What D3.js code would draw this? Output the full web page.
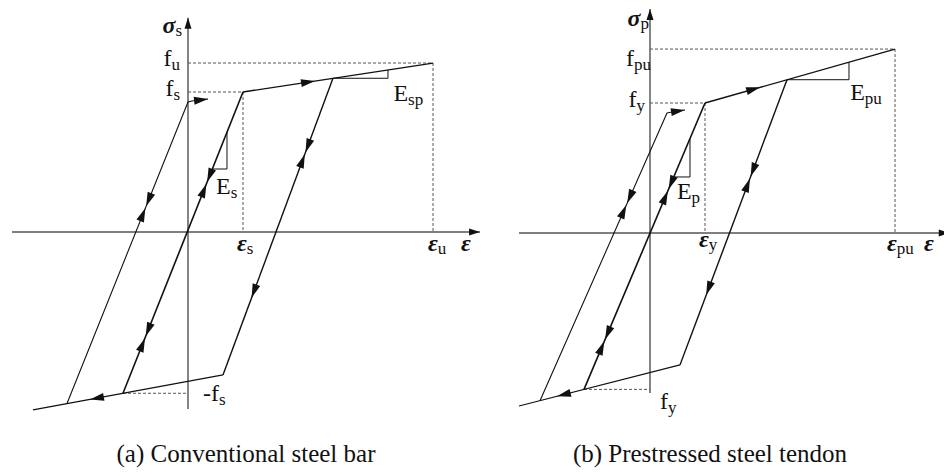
<!DOCTYPE html>
<html>
<head>
<meta charset="utf-8">
<script src="https://cdn.jsdelivr.net/npm/d3@7"></script>
<style>
  html, body { margin: 0; padding: 0; background: #fff; }
  svg { display: block; }
  text { font-family: "Liberation Serif", "Times New Roman", serif; fill: #111; }
</style>
</head>
<body>
<svg id="chart" width="944" height="473"></svg>
<script>
// Strain in units of the yield strain, stress in units of the yield stress.

// ---- (a) Conventional steel bar ----
const barYield = [1, 1];
const barUltimate = [4.455, 1.207];
const barFirstLoad = [[-2.2, -1.225], [0, 0.929], [0.073, 0.936], [0.364, 0.95]];
const barReload = [[-1.182, -1.152], [1, 1]];
const barHardening = [[1, 1], [4.455, 1.207]];
const barUnload = [[2.636, 1.098], [0.636, -1.021]];
const barCompression = [[0.636, -1.021], [-2.818, -1.271]];
const barNegYield = -1.152;
const barStrainAxis = [-3.2, 5.31];
const barStressAxis = [-1.264, 1.53];
const barSlopeMarks = { elastic: [0.709, 0.45], hardening: [2.636, 3.636] };

// ---- (b) Prestressed steel tendon ----
const tendonYield = [1, 1];
const tendonUltimate = [4.455, 1.415];
const tendonFirstLoad = [[-2.0, -1.29], [0.309, 0.923], [0.4, 0.931], [0.636, 0.946]];
const tendonReload = [[-1.2, -1.203], [1, 1]];
const tendonHardening = [[1, 1], [4.455, 1.415]];
const tendonUnload = [[2.491, 1.179], [0.545, -1.015]];
const tendonCompression = [[0.545, -1.015], [-2.382, -1.331]];
const tendonNegYield = -1.203;
const tendonStrainAxis = [-2.382, 5.45];
const tendonStressAxis = [-1.23, 1.723];
const tendonSlopeMarks = { elastic: [0.727, 0.431], hardening: [2.491, 3.618] };

// Direction arrows: branch, segment, position along it (0..1), and type
// "fwd" = single head pointing along the branch, "pair" = two heads meeting tip to tip
const barArrows = [
  { branch: "firstLoad", seg: 0, t: 0.651, kind: "pair" },
  { branch: "reload", seg: 0, t: 0.698, kind: "pair" },
  { branch: "reload", seg: 0, t: 0.186, kind: "pair" },
  { branch: "unload", seg: 0, t: 0.253, kind: "pair" },
  { branch: "unload", seg: 0, t: 0.74, kind: "fwd" },
  { branch: "hardening", seg: 0, t: 0.379, kind: "fwd" },
  { branch: "compression", seg: 0, t: 0.7, kind: "fwd" },
  { branch: "firstLoad", seg: 2, t: 1, kind: "fwd" }
];
const tendonArrows = [
  { branch: "firstLoad", seg: 0, t: 0.683, kind: "pair" },
  { branch: "reload", seg: 0, t: 0.696, kind: "pair" },
  { branch: "reload", seg: 0, t: 0.171, kind: "pair" },
  { branch: "unload", seg: 0, t: 0.343, kind: "pair" },
  { branch: "unload", seg: 0, t: 0.755, kind: "fwd" },
  { branch: "hardening", seg: 0, t: 0.29, kind: "fwd" },
  { branch: "compression", seg: 0, t: 0.764, kind: "fwd" },
  { branch: "firstLoad", seg: 2, t: 1, kind: "fwd" }
];

const captions = ["(a) Conventional steel bar", "(b) Prestressed steel tendon"];

const MAIN = 24, SUB = 17;
const svg = d3.select("#chart");

function arrowHead(g, tip, dir, len, half) {
  const [ux, uy] = dir;
  const bx = tip[0] - ux * len, by = tip[1] - uy * len;
  const px = -uy, py = ux;
  g.append("path")
    .attr("d", `M${tip[0]},${tip[1]}L${bx + px * half},${by + py * half}L${bx - px * half},${by - py * half}Z`)
    .attr("fill", "#111");
}

function label(g, x, y, anchor, parts) {
  const t = g.append("text").attr("x", x).attr("y", y).attr("text-anchor", anchor);
  parts.forEach(p => {
    const s = t.append("tspan").text(p.text).attr("font-size", p.size || MAIN);
    if (p.greek) s.attr("font-style", "italic").attr("font-weight", "bold");
    if (p.dy) s.attr("dy", p.dy);
  });
  return t;
}
const sub = (text, dy = 4) => ({ text, size: SUB, dy });

function drawPanel(cfg) {
  const { x, y } = cfg;
  const g = svg.append("g");
  const line = d3.line().x(d => x(d[0])).y(d => y(d[1]));
  const branches = cfg.branches;

  // axes
  g.append("line")
    .attr("x1", x(cfg.strainAxis[0])).attr("x2", x(cfg.strainAxis[1]))
    .attr("y1", y(0)).attr("y2", y(0))
    .attr("stroke", "#555").attr("stroke-width", 1.3);
  arrowHead(g, [x(cfg.strainAxis[1]), y(0)], [1, 0], 11, 3.5);
  g.append("line")
    .attr("x1", x(0)).attr("x2", x(0))
    .attr("y1", y(cfg.stressAxis[0])).attr("y2", y(cfg.stressAxis[1]))
    .attr("stroke", "#333").attr("stroke-width", 1.2);
  arrowHead(g, [x(0), y(cfg.stressAxis[1])], [0, -1], 11, 3.5);

  // dashed guides to yield and ultimate points
  const guides = [
    [[0, cfg.yieldPt[1]], cfg.yieldPt, [cfg.yieldPt[0], 0]],
    [[0, cfg.ultPt[1]], cfg.ultPt, [cfg.ultPt[0], 0]],
    [[branches.reload[0][0], cfg.negYield], [0, cfg.negYield]]
  ];
  g.selectAll("path.guide").data(guides).join("path")
    .attr("class", "guide")
    .attr("d", line).attr("fill", "none")
    .attr("stroke", "#555").attr("stroke-width", 1)
    .attr("stroke-dasharray", "3,2");

  // stress-strain branches
  const widths = { firstLoad: 1.1, reload: 1.6, hardening: 1.3, unload: 1.4, compression: 1.2 };
  Object.keys(branches).forEach(k => {
    g.append("path").attr("d", line(branches[k]))
      .attr("fill", "none").attr("stroke", "#111")
      .attr("stroke-width", widths[k]).attr("stroke-linejoin", "round");
  });

  // slope triangles
  const reload = branches.reload;
  const rs = (reload[1][1] - reload[0][1]) / (reload[1][0] - reload[0][0]);
  const onReload = v => reload[0][1] + (v - reload[0][0]) * rs;
  const [ex, ey] = cfg.slopeMarks.elastic;
  const exLeft = reload[0][0] + (ey - reload[0][1]) / rs;
  g.append("path")
    .attr("d", line([[ex, onReload(ex)], [ex, ey], [exLeft, ey]]))
    .attr("fill", "none").attr("stroke", "#111").attr("stroke-width", 1);
  const hard = branches.hardening;
  const hs = (hard[1][1] - hard[0][1]) / (hard[1][0] - hard[0][0]);
  const [h0, h1] = cfg.slopeMarks.hardening;
  const hy0 = hard[0][1] + (h0 - hard[0][0]) * hs;
  const hy1 = hard[0][1] + (h1 - hard[0][0]) * hs;
  g.append("path")
    .attr("d", line([[h0, hy0], [h1, hy0], [h1, hy1]]))
    .attr("fill", "none").attr("stroke", "#111").attr("stroke-width", 1);

  // direction arrows
  cfg.arrows.forEach(a => {
    const pts = branches[a.branch];
    const p0 = [x(pts[a.seg][0]), y(pts[a.seg][1])];
    const p1 = [x(pts[a.seg + 1][0]), y(pts[a.seg + 1][1])];
    const L = Math.hypot(p1[0] - p0[0], p1[1] - p0[1]);
    const u = [(p1[0] - p0[0]) / L, (p1[1] - p0[1]) / L];
    const tip = [p0[0] + (p1[0] - p0[0]) * a.t, p0[1] + (p1[1] - p0[1]) * a.t];
    if (a.kind === "fwd") {
      arrowHead(g, tip, u, 14, 4);
    } else {
      arrowHead(g, [tip[0] - u[0], tip[1] - u[1]], u, 14, 4);
      arrowHead(g, [tip[0] + u[0], tip[1] + u[1]], [-u[0], -u[1]], 14, 4);
    }
  });

  cfg.labels(g);
}

// panel (a)
const xa = d3.scaleLinear().domain([0, 1]).range([188, 243]);
const ya = d3.scaleLinear().domain([0, 1]).range([232, 92]);
drawPanel({
  x: xa, y: ya,
  yieldPt: barYield, ultPt: barUltimate, negYield: barNegYield,
  strainAxis: barStrainAxis, stressAxis: barStressAxis,
  slopeMarks: barSlopeMarks, arrows: barArrows,
  branches: { firstLoad: barFirstLoad, reload: barReload, hardening: barHardening, unload: barUnload, compression: barCompression },
  labels: g => {
    const x0 = xa(0);
    label(g, x0 - 6, ya(barStressAxis[1]) + 15, "end", [{ text: "σ", greek: true }, sub("s", 3)]);
    label(g, x0 - 8, ya(barUltimate[1]) + 3, "end", [{ text: "f" }, sub("u")]);
    label(g, x0 - 8, ya(barYield[1]) + 4, "end", [{ text: "f" }, sub("s")]);
    label(g, x0 + 15, ya(barNegYield) + 8, "start", [{ text: "-f" }, sub("s")]);
    label(g, xa(0.51), 194, "start", [{ text: "E" }, sub("s")]);
    label(g, xa(3.735), 101, "start", [{ text: "E" }, sub("sp")]);
    label(g, xa(barYield[0]) - 6, ya(0) + 19, "start", [{ text: "ε", greek: true }, sub("s", 3)]);
    label(g, xa(barUltimate[0]) - 5, ya(0) + 19, "start", [{ text: "ε", greek: true }, sub("u", 3)]);
    label(g, xa(barStrainAxis[1]) - 19, ya(0) + 19, "start", [{ text: "ε", greek: true }]);
  }
});

// panel (b)
const xb = d3.scaleLinear().domain([0, 1]).range([650, 705]);
const yb = d3.scaleLinear().domain([0, 1]).range([233, 103]);
drawPanel({
  x: xb, y: yb,
  yieldPt: tendonYield, ultPt: tendonUltimate, negYield: tendonNegYield,
  strainAxis: tendonStrainAxis, stressAxis: tendonStressAxis,
  slopeMarks: tendonSlopeMarks, arrows: tendonArrows,
  branches: { firstLoad: tendonFirstLoad, reload: tendonReload, hardening: tendonHardening, unload: tendonUnload, compression: tendonCompression },
  labels: g => {
    const x0 = xb(0);
    label(g, x0 - 1, yb(tendonStressAxis[1]) + 17, "end", [{ text: "σ", greek: true }, sub("p", 3)]);
    label(g, x0 + 1, yb(tendonUltimate[1]) + 17, "end", [{ text: "f" }, sub("pu")]);
    label(g, x0 - 5, yb(tendonYield[1]) + 4, "end", [{ text: "f" }, sub("y")]);
    label(g, x0 + 10, yb(tendonNegYield) + 20, "start", [{ text: "f" }, sub("y")]);
    label(g, xb(0.49), 199, "start", [{ text: "E" }, sub("p")]);
    label(g, xb(3.64), 100, "start", [{ text: "E" }, sub("pu")]);
    label(g, xb(tendonYield[0]) - 6, yb(0) + 14, "start", [{ text: "ε", greek: true }, sub("y", 3)]);
    label(g, xb(tendonUltimate[0]) - 8, yb(0) + 18, "start", [{ text: "ε", greek: true }, sub("pu", 3)]);
    label(g, 924, yb(0) + 18, "start", [{ text: "ε", greek: true }]);
  }
});

// captions
svg.selectAll("text.caption").data(captions).join("text")
  .attr("class", "caption")
  .attr("x", (d, i) => [246, 710][i])
  .attr("y", 462)
  .attr("text-anchor", "middle")
  .attr("font-size", 25)
  .text(d => d);
</script>
</body>
</html>
